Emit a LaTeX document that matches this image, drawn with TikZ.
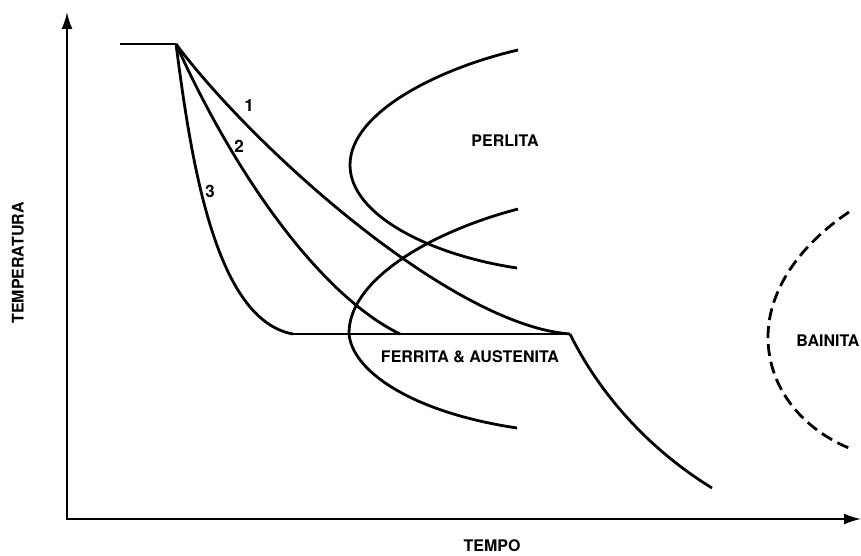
\documentclass[tikz,border=0pt]{standalone}
\usepackage{fontspec}
\newfontfamily\lblfont{TeX Gyre Heros}
\usetikzlibrary{arrows.meta}
\begin{document}
\begin{tikzpicture}[x=1pt,y=-1pt,
  curve/.style={line width=2.8pt},
  axis/.style={line width=1.9pt,{Latex[length=17pt,width=11pt]}-{Latex[length=17pt,width=11pt]}},
  lbl/.style={font=\lblfont\bfseries\fontsize{16}{19}\selectfont, inner sep=0pt},
  num/.style={font=\lblfont\bfseries\fontsize{17}{20}\selectfont, inner sep=0pt},
  dashcurve/.style={line width=2.8pt, dash pattern=on 12pt off 6pt}]
\useasboundingbox (0,0) rectangle (861,556);
% axes
\coordinate (O) at (67,519);
\coordinate (ytip) at (67,12);
\coordinate (xtip) at (861,519);
\draw[axis] (ytip) -- (O) -- (xtip);
% cooling curves
\coordinate (s0) at (120,44);
\coordinate (s1) at (176,44);
\coordinate (e1) at (570,334);
\coordinate (e2) at (400,334);
\coordinate (e3) at (293,334);
\coordinate (fin) at (712,488);
\draw[curve] (s0) -- (s1);
\draw[curve] (s1) .. controls (252,146) and (450,325) .. (e1);
\draw[curve] (s1) .. controls (235,175) and (320,295) .. (e2);
\draw[curve] (s1) .. controls (191,160) and (215,320) .. (e3);
\draw[curve] (e3) -- (e1);
\draw[curve] (e1) .. controls (600,395) and (650,450) .. (fin);
% perlita C curve
\coordinate (p0) at (518,50);
\coordinate (p1) at (350,165);
\coordinate (p2) at (517,268);
\draw[curve] (p0) .. controls (440,68) and (350,112) .. (p1)
  .. controls (350,215) and (430,255) .. (p2);
% ferrita C curve
\coordinate (f0) at (518,209);
\coordinate (f1) at (349,333);
\coordinate (f2) at (517,428);
\draw[curve] (f0) .. controls (430,232) and (349,280) .. (f1)
  .. controls (351,370) and (410,412) .. (f2);
% bainita dashed
\coordinate (b0) at (849,212);
\coordinate (b1) at (768,337);
\coordinate (b2) at (849,448);
\draw[dashcurve] (b0) .. controls (800,245) and (768,290) .. (b1)
  .. controls (768,390) and (805,430) .. (b2);
% labels
\node[lbl] (perlita) at (505,141) {PERLITA};
\node[lbl] (ferrita) at (470,357) {FERRITA \& AUSTENITA};
\node[lbl] (bainita) at (828,341) {BAINITA};
\node[lbl, rotate=90] (temp) at (18,263) {TEMPERATURA};
\node[lbl] (tempo) at (492,546) {TEMPO};
\node[num] (n1) at (249,105) {1};
\node[num] (n2) at (239,146) {2};
\node[num] (n3) at (210,191) {3};
\end{tikzpicture}
\end{document}
